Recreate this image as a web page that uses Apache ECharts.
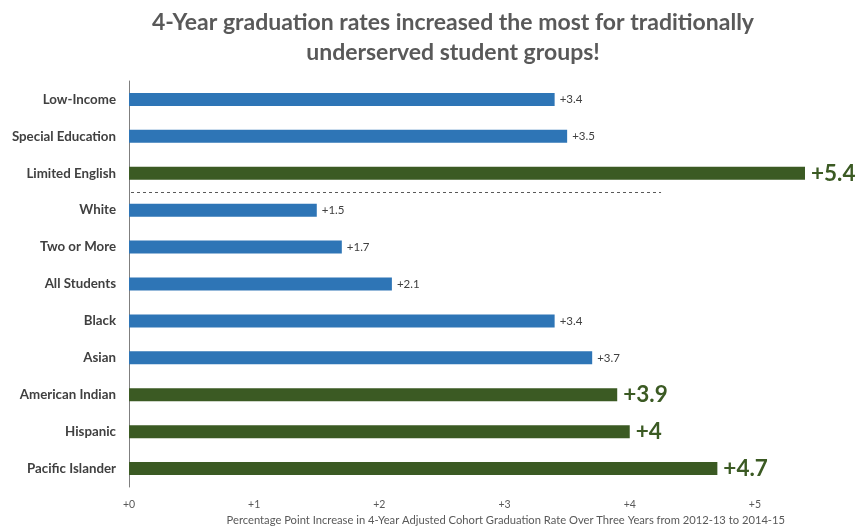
<!DOCTYPE html>
<html><head><meta charset="utf-8">
<script src="https://cdn.jsdelivr.net/npm/echarts@6/dist/echarts.min.js"></script>
<style>html,body{margin:0;padding:0;background:#fff}#c{width:858px;height:527px}</style>
</head><body><div id="c"></div>
<script>
const categories = ['Low-Income','Special Education','Limited English','White','Two or More','All Students','Black','Asian','American Indian','Hispanic','Pacific Islander'];
const increases = [3.4,3.5,5.4,1.5,1.7,2.1,3.4,3.7,3.9,4,4.7];
const highlighted = ['Limited English','American Indian','Hispanic','Pacific Islander'];
const tickValues = [0,1,2,3,4,5];
const separatorAfter = 'Limited English';
const separatorEnd = 4.25;
const titleText = '4-Year graduation rates increased the most for traditionally\nunderserved student groups!';
const axisTitle = 'Percentage Point Increase in 4-Year Adjusted Cohort Graduation Rate Over Three Years from 2012-13 to 2014-15';

const BLUE = '#2E75B6', GREEN = '#3B5A23';
const chart = echarts.init(document.getElementById('c'), null, {renderer:'canvas'});
const data = categories.map((c,i)=>{
  const hi = highlighted.includes(c);
  return {
    value: increases[i],
    itemStyle:{color: hi?GREEN:BLUE},
    label: hi ? {fontSize:22.5, fontWeight:'bold', color:GREEN, distance:6}
              : {fontSize:11.5, color:'#404040', distance:5}
  };
});
const axisTitleGraphic = {type:'text', right:73, bottom:1,
    style:{text:axisTitle, fontSize:11.2, fontFamily:'Lato', fill:'#595959'}};
chart.setOption({
  animation:false,
  title:{text:titleText, left:448, textAlign:'center', top:3,
    textStyle:{fontFamily:'Lato', fontSize:23, fontWeight:'bold', color:'#595959', lineHeight:30}},
  grid:{left:129, right:53, top:81, bottom:40, containLabel:false},
  xAxis:{type:'value', min:0, max:5.4, interval:1,
    axisLine:{show:false}, axisTick:{show:false}, splitLine:{show:false},
    axisLabel:{showMaxLabel:false, formatter:v=>tickValues.includes(v)?'+'+v:'', color:'#595959', fontSize:10.5, fontFamily:'Lato', margin:12}},
  yAxis:{type:'category', data:categories, inverse:true,
    axisLine:{show:true, lineStyle:{color:'#7f7f7f', width:1}}, axisTick:{show:false},
    axisLabel:{color:'#404040', fontSize:13.3, fontWeight:'bold', fontFamily:'Lato', margin:13}},
  series:[{type:'bar', data:data, barWidth:13,
    label:{show:true, position:'right', formatter:p=>'+'+p.value, fontFamily:'Lato'}}],
  graphic:[axisTitleGraphic]
});
const idx = categories.indexOf(separatorAfter);
const y1 = chart.convertToPixel({yAxisIndex:0}, categories[idx]);
const y2 = chart.convertToPixel({yAxisIndex:0}, categories[idx+1]);
const x0 = chart.convertToPixel({xAxisIndex:0}, 0);
const x1 = chart.convertToPixel({xAxisIndex:0}, separatorEnd);
const ym = Math.round((y1+y2)/2)+0.5;
chart.setOption({graphic:[axisTitleGraphic,
  {type:'line', shape:{x1:x0+2, y1:ym, x2:x1, y2:ym}, style:{stroke:'#595959', lineWidth:1, lineDash:[3,3]}}]});
</script></body></html>
